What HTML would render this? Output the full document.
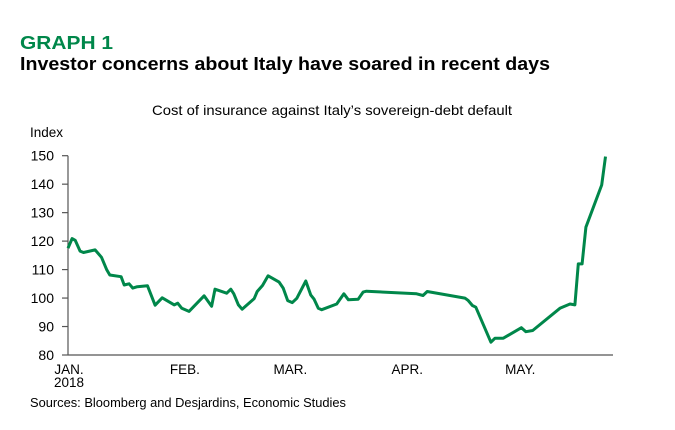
<!DOCTYPE html>
<html><head><meta charset="utf-8"><style>
body{margin:0;background:#fff;}
svg text{font-family:"Liberation Sans",sans-serif;}
</style></head><body>
<svg width="675" height="425" xmlns="http://www.w3.org/2000/svg">
<rect width="675" height="425" fill="#fff"/>
<text x="20" y="49" font-size="18" font-weight="bold" fill="#00874a" textLength="93" lengthAdjust="spacingAndGlyphs">GRAPH 1</text>
<text x="20" y="70" font-size="18" font-weight="bold" fill="#000" textLength="530" lengthAdjust="spacingAndGlyphs">Investor concerns about Italy have soared in recent days</text>
<text x="152" y="115" font-size="14" fill="#000" textLength="360" lengthAdjust="spacingAndGlyphs">Cost of insurance against Italy’s sovereign-debt default</text>
<text x="30" y="137" font-size="13.5" fill="#000">Index</text>
<g id="yaxis"></g>
<g id="xaxis"></g>
<path id="line" fill="none" stroke="#00874a" stroke-width="3" stroke-linejoin="round"/>
<text x="30" y="407" font-size="13" fill="#000" textLength="316" lengthAdjust="spacingAndGlyphs">Sources: Bloomberg and Desjardins, Economic Studies</text>
</svg>
<script>
const days=[0,1.1,1.9,3.2,4.1,7.2,8.9,10.3,11.1,14.1,14.9,16.2,17.2,18.4,21.1,23.1,25,28.2,29.1,30.2,32.1,36.1,38.1,39,42.1,43.2,44,45.2,46.2,49.4,50.2,51.6,53.1,56,57.1,58.3,59.5,60.7,63.1,64.4,65.3,66.4,67.3,71.3,73.2,74.4,77,78.3,79.2,92.5,94.2,95.3,105.3,106.2,107.3,108.2,112.2,113.3,115.5,120.3,121.5,123.3,130.5,133.2,134.5,135.4,136.4,137.4,141.6,142.6];
const values=[117.5,120.9,120.3,116.5,116,116.9,114.3,109.9,108.1,107.5,104.6,105,103.5,104,104.3,97.5,100.1,97.6,98.2,96.4,95.3,100.8,97.1,103.1,101.7,103.1,101.5,97.6,96.1,99.8,102.3,104.4,107.8,105.6,103.5,99.1,98.4,99.9,106,101.1,99.6,96.4,95.9,97.9,101.5,99.4,99.6,102.1,102.4,101.5,100.9,102.3,100,99.1,97.4,96.8,84.5,85.9,85.9,89.6,88.2,88.6,96.4,97.9,97.6,112,112,124.9,139.7,149.7];
const yTicks=[80,90,100,110,120,130,140,150];
const monthDays=[0,31,59,90,120];
const monthLabels=["JAN.","FEB.","MAR.","APR.","MAY."];
const NS="http://www.w3.org/2000/svg";
const x=d=>68+d*(613-68)/144.6;
const y=v=>355-(v-80)*(355-155.7)/70;
function mk(tag,attrs,parent,txt){const e=document.createElementNS(NS,tag);for(const k in attrs)e.setAttribute(k,attrs[k]);if(txt!==undefined)e.textContent=txt;parent.appendChild(e);return e;}
const ya=document.getElementById('yaxis'),xa=document.getElementById('xaxis');
mk('line',{x1:68,y1:155.7,x2:68,y2:355,stroke:'#555','stroke-width':1.2},ya);
mk('line',{x1:68,y1:355,x2:613,y2:355,stroke:'#555','stroke-width':1.2},xa);
yTicks.forEach(t=>{
 const l=mk('line',{x1:62,y1:y(t),x2:68,y2:y(t),stroke:'#555','stroke-width':1.2},ya);
 
 
 const tx=mk('text',{x:54,y:y(t)+5,'font-size':14,'text-anchor':'end',fill:'#000'},ya,t);
 
 
});
monthDays.forEach((d,i)=>{
 const tx=mk('text',{x:x(d)+(i==0?1:0),y:374,'font-size':13.5,'text-anchor':'middle',fill:'#000'},xa,monthLabels[i]);
 
 
});
const yr=mk('text',{x:x(0)+1,y:387,'font-size':13.5,'text-anchor':'middle',fill:'#000'},xa,'2018');


document.getElementById('line').setAttribute('d',days.map((d,i)=>(i?'L':'M')+x(d).toFixed(1)+','+y(values[i]).toFixed(1)).join(''));
</script>
</body></html>
